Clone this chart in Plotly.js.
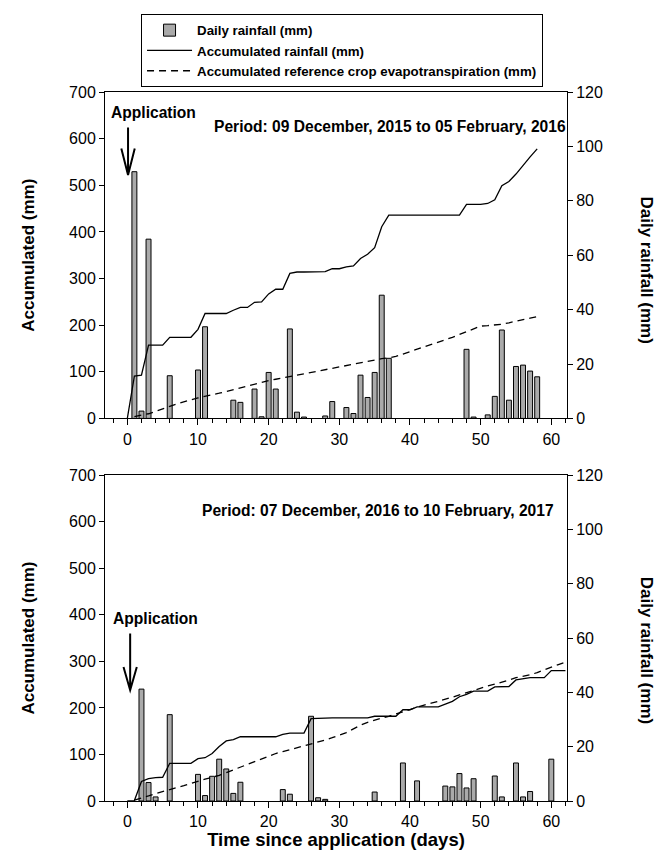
<!DOCTYPE html>
<html>
<head>
<meta charset="utf-8">
<script src="https://cdn.plot.ly/plotly-3.0.1.min.js"></script>
<style>
  html, body { margin: 0; padding: 0; background: #ffffff; }
  #chart { width: 660px; height: 850px; }
</style>
</head>
<body>
<div id="chart"></div>
<script>
// ---- Season 1: 09 Dec 2015 - 05 Feb 2016 ----
const rainDays2016 = [1, 2, 3, 6, 10, 11, 15, 16, 18, 19, 20, 21, 23, 24, 25, 28, 29, 31, 32, 33, 34, 35, 36, 37, 48, 49, 51, 52, 53, 54, 55, 56, 57, 58];
const rain2016 = [90.7, 2.7, 65.9, 15.7, 17.8, 33.7, 6.7, 5.9, 10.8, 0.6, 16.9, 10.8, 32.9, 2.3, 0.5, 0.9, 6.2, 4.0, 1.8, 15.9, 7.7, 16.9, 45.3, 22.1, 25.4, 0.5, 1.3, 8.1, 32.5, 6.7, 19.1, 19.6, 17.4, 15.3];

const accDays2016 = [0, 1, 2, 3, 4, 5, 6, 7, 8, 9, 10, 11, 12, 13, 14, 15, 16, 17, 18, 19, 20, 21, 22, 23, 24, 25, 26, 27, 28, 29, 30, 31, 32, 33, 34, 35, 36, 37, 38, 39, 40, 41, 42, 43, 44, 45, 46, 47, 48, 49, 50, 51, 52, 53, 54, 55, 56, 57, 58];
const accRain2016 = [0, 91, 93, 157, 157, 157, 174, 174, 174, 174, 191, 225, 225, 225, 225, 232, 238, 238, 249, 250, 267, 277, 277, 311, 314, 314, 314, 314, 315, 321, 321, 325, 327, 343, 352, 366, 411, 436, 436, 436, 436, 436, 436, 436, 436, 436, 436, 436, 459, 459, 459, 461, 469, 499, 508, 524, 543, 561, 578];

const etoDays2016 = [1, 2, 3, 4, 5, 6, 7, 8, 9, 10, 11, 12, 13, 14, 15, 16, 17, 18, 19, 20, 21, 22, 23, 24, 25, 26, 27, 28, 29, 30, 31, 32, 33, 34, 35, 36, 37, 38, 39, 40, 41, 42, 43, 44, 45, 46, 47, 48, 49, 50, 51, 52, 53, 54, 55, 56, 57, 58];
const accEto2016 = [4, 7, 10, 15, 21, 26, 31, 36, 40, 44, 48, 51, 54, 58, 62, 66, 70, 74, 78, 81, 84, 87, 90, 93, 96, 99, 102, 105, 108, 111, 114, 117, 120, 122, 125, 128, 130, 133, 138, 143, 148, 153, 158, 163, 168, 174, 180, 186, 192, 198, 199, 200, 202, 205, 209, 212, 215, 218];

// ---- Season 2: 07 Dec 2016 - 10 Feb 2017 ----
const rainDays2017 = [2, 3, 4, 6, 10, 11, 12, 13, 14, 15, 16, 22, 23, 26, 27, 28, 35, 39, 41, 45, 46, 47, 48, 49, 52, 53, 55, 56, 57, 60];
const rain2017 = [41.2, 6.8, 1.5, 31.8, 9.8, 2.0, 9.1, 15.4, 11.8, 2.8, 6.9, 4.2, 2.5, 31.2, 1.2, 0.6, 3.3, 14.0, 7.4, 5.5, 5.2, 10.1, 4.8, 8.2, 9.2, 1.5, 14.0, 1.5, 3.5, 15.4];

const accDays2017 = [0, 1, 2, 3, 4, 5, 6, 7, 8, 9, 10, 11, 12, 13, 14, 15, 16, 17, 18, 19, 20, 21, 22, 23, 24, 25, 26, 27, 28, 29, 30, 31, 32, 33, 34, 35, 36, 37, 38, 39, 40, 41, 42, 43, 44, 45, 46, 47, 48, 49, 50, 51, 52, 53, 54, 55, 56, 57, 58, 59, 60, 61, 62];
const accRain2017 = [0, 1, 42, 48, 50, 51, 81, 81, 81, 81, 91, 93, 102, 117, 129, 132, 138, 138, 138, 138, 138, 138, 143, 146, 146, 146, 177, 178, 178.5, 178.5, 178.5, 178.5, 178.5, 178.5, 178.5, 182, 182, 182, 182, 196, 196, 202, 202, 202, 202, 208, 214, 224, 229, 236, 236, 236, 245, 246, 246, 260, 262, 265, 265, 265, 280, 280, 280];

const etoDays2017 = [1, 2, 3, 4, 5, 6, 7, 8, 9, 10, 11, 12, 13, 14, 15, 16, 17, 18, 19, 20, 21, 22, 23, 24, 25, 26, 27, 28, 29, 30, 31, 32, 33, 34, 35, 36, 37, 38, 39, 40, 41, 42, 43, 44, 45, 46, 47, 48, 49, 50, 51, 52, 53, 54, 55, 56, 57, 58, 59, 60, 61, 62];
const accEto2017 = [2, 6, 11, 16, 20, 25, 29, 33, 38, 43, 47, 51, 55, 61, 67, 73, 79, 85, 91, 97, 102, 106, 110, 115, 119, 123, 127, 131, 136, 141, 147, 155, 163, 169, 174, 178, 182, 187, 192, 197, 202, 206, 210, 214, 218, 223, 228, 233, 238, 242, 247, 251, 255, 260, 265, 268, 271, 276, 282, 288, 293, 298];

// ---- Labels ----
const seriesNames = ['Daily rainfall (mm)', 'Accumulated rainfall (mm)', 'Accumulated reference crop evapotranspiration (mm)'];
const periodLabels = ['Period: 09 December, 2015 to 05 February, 2016', 'Period: 07 December, 2016 to 10 February, 2017'];
const leftTitle = 'Accumulated (mm)';
const rightTitle = 'Daily rainfall (mm)';
const xTitle = 'Time since application (days)';
const markerLabel = 'Application';

// ---- Styling ----
const FONT = 'Arial, "Liberation Sans", sans-serif';
const BAR_FILL = '#aaaaaa';
const dashPattern = '7px,5px';

function barTrace(x, y, yaxis, xaxis, show) {
  return {
    type: 'bar', x: x, y: y, xaxis: xaxis, yaxis: yaxis,
    name: seriesNames[0], showlegend: show, width: 0.7,
    marker: { color: BAR_FILL, line: { color: '#000000', width: 1 } }
  };
}
function lineTrace(x, y, yaxis, xaxis, nameIdx, dash, show) {
  return {
    type: 'scatter', mode: 'lines', x: x, y: y, xaxis: xaxis, yaxis: yaxis,
    name: seriesNames[nameIdx], showlegend: show,
    line: { color: '#000000', width: 1.3, dash: dash }
  };
}

const traces = [
  barTrace(rainDays2016, rain2016, 'y', 'x', true),
  lineTrace(accDays2016, accRain2016, 'y2', 'x', 1, 'solid', true),
  lineTrace(etoDays2016, accEto2016, 'y2', 'x', 2, dashPattern, true),
  barTrace(rainDays2017, rain2017, 'y3', 'x2', false),
  lineTrace(accDays2017, accRain2017, 'y4', 'x2', 1, 'solid', false),
  lineTrace(etoDays2017, accEto2017, 'y4', 'x2', 2, dashPattern, false)
];

const xRange = [-3.16, 62.22];
const tickFont = { family: FONT, size: 16, color: '#000000' };
const titleFont = { family: FONT, size: 17, color: '#000000', weight: 'bold' };
const noteFont = { family: FONT, size: 15.6, color: '#000000', weight: 'bold' };

function xAxis(anchor, withTitle) {
  const ax = {
    anchor: anchor, domain: [0, 1], range: xRange,
    showline: true, linecolor: '#000000', linewidth: 1, mirror: true,
    ticks: 'outside', ticklen: 6, tickwidth: 1, tickcolor: '#000000',
    tick0: 0, dtick: 10, tickfont: tickFont,
    minor: { dtick: 2, tick0: 0, ticks: 'outside', ticklen: 4, tickwidth: 1, tickcolor: '#000000', showgrid: false },
    showgrid: false, zeroline: false
  };
  if (withTitle) {
    ax.title = { text: xTitle, font: { family: FONT, size: 18.5, color: '#000000', weight: 'bold' }, standoff: 6 };
  }
  return ax;
}
function rightAxis(anchor, domain) {
  return {
    anchor: anchor, domain: domain, side: 'right', range: [0, 120],
    tick0: 0, dtick: 20,
    showline: true, linecolor: '#000000', linewidth: 1,
    ticks: 'outside', ticklen: 5, tickwidth: 1, tickcolor: '#000000',
    tickfont: tickFont, showgrid: false, zeroline: false
  };
}
function leftAxis(anchor, over) {
  return {
    anchor: anchor, overlaying: over, side: 'left', range: [0, 700],
    tick0: 0, dtick: 100,
    showline: true, linecolor: '#000000', linewidth: 1,
    ticks: 'outside', ticklen: 5, tickwidth: 1, tickcolor: '#000000',
    tickfont: tickFont, showgrid: false, zeroline: false,
    title: { text: leftTitle, font: titleFont, standoff: 30 }
  };
}

const topDomain = [0.5396, 1];
const botDomain = [0, 0.4596];

// arrow geometry (days, mm on the accumulated axis)
function arrowPath(x, top, tip, armY, armDx) {
  return 'M' + x + ',' + top + 'L' + x + ',' + tip +
         'M' + (x - armDx) + ',' + armY + 'L' + x + ',' + tip + 'L' + (x + armDx) + ',' + armY;
}

function note(xref, yref, x, y, text) {
  return { xref: xref, yref: yref, x: x, y: y, text: text, showarrow: false,
           xanchor: 'center', yanchor: 'middle', font: noteFont };
}
function sideTitle(y) {
  return { xref: 'paper', yref: 'paper', x: 1.172, y: y, text: rightTitle, textangle: 90,
           xanchor: 'center', yanchor: 'middle', showarrow: false, font: titleFont };
}

const layout = {
  width: 660, height: 850,
  margin: { l: 105, r: 93, t: 92, b: 49.3 },
  paper_bgcolor: '#ffffff', plot_bgcolor: '#ffffff',
  font: { family: FONT, color: '#000000' },
  bargap: 0,
  xaxis: xAxis('y', false),
  yaxis: rightAxis('x', topDomain),
  yaxis2: leftAxis('x', 'y'),
  xaxis2: xAxis('y3', true),
  yaxis3: rightAxis('x2', botDomain),
  yaxis4: leftAxis('x2', 'y3'),
  showlegend: true,
  legend: {
    x: 0.078, y: 1.11, xanchor: 'left', yanchor: 'top',
    bgcolor: '#ffffff', bordercolor: '#000000', borderwidth: 1,
    font: { family: FONT, size: 13.3, color: '#000000', weight: 'bold' },
    itemwidth: 45, traceorder: 'normal', tracegroupgap: 0
  },
  shapes: [
    { type: 'path', xref: 'x', yref: 'y2', path: arrowPath(0.1, 624, 522, 579, 0.95),
      line: { color: '#000000', width: 2 } },
    { type: 'path', xref: 'x2', yref: 'y4', path: arrowPath(0.4, 360, 238, 288, 0.94),
      line: { color: '#000000', width: 2 } }
  ],
  annotations: [
    note('x', 'y2', 3.7, 657, markerLabel),
    note('x', 'y2', 37.2, 625, periodLabels[0]),
    note('x2', 'y4', 4.0, 393, markerLabel),
    note('x2', 'y4', 35.5, 625, periodLabels[1]),
    sideTitle(0.749),
    sideTitle(0.2126)
  ]
};

Plotly.newPlot('chart', traces, layout, { displayModeBar: false, staticPlot: true });
</script>
</body>
</html>
